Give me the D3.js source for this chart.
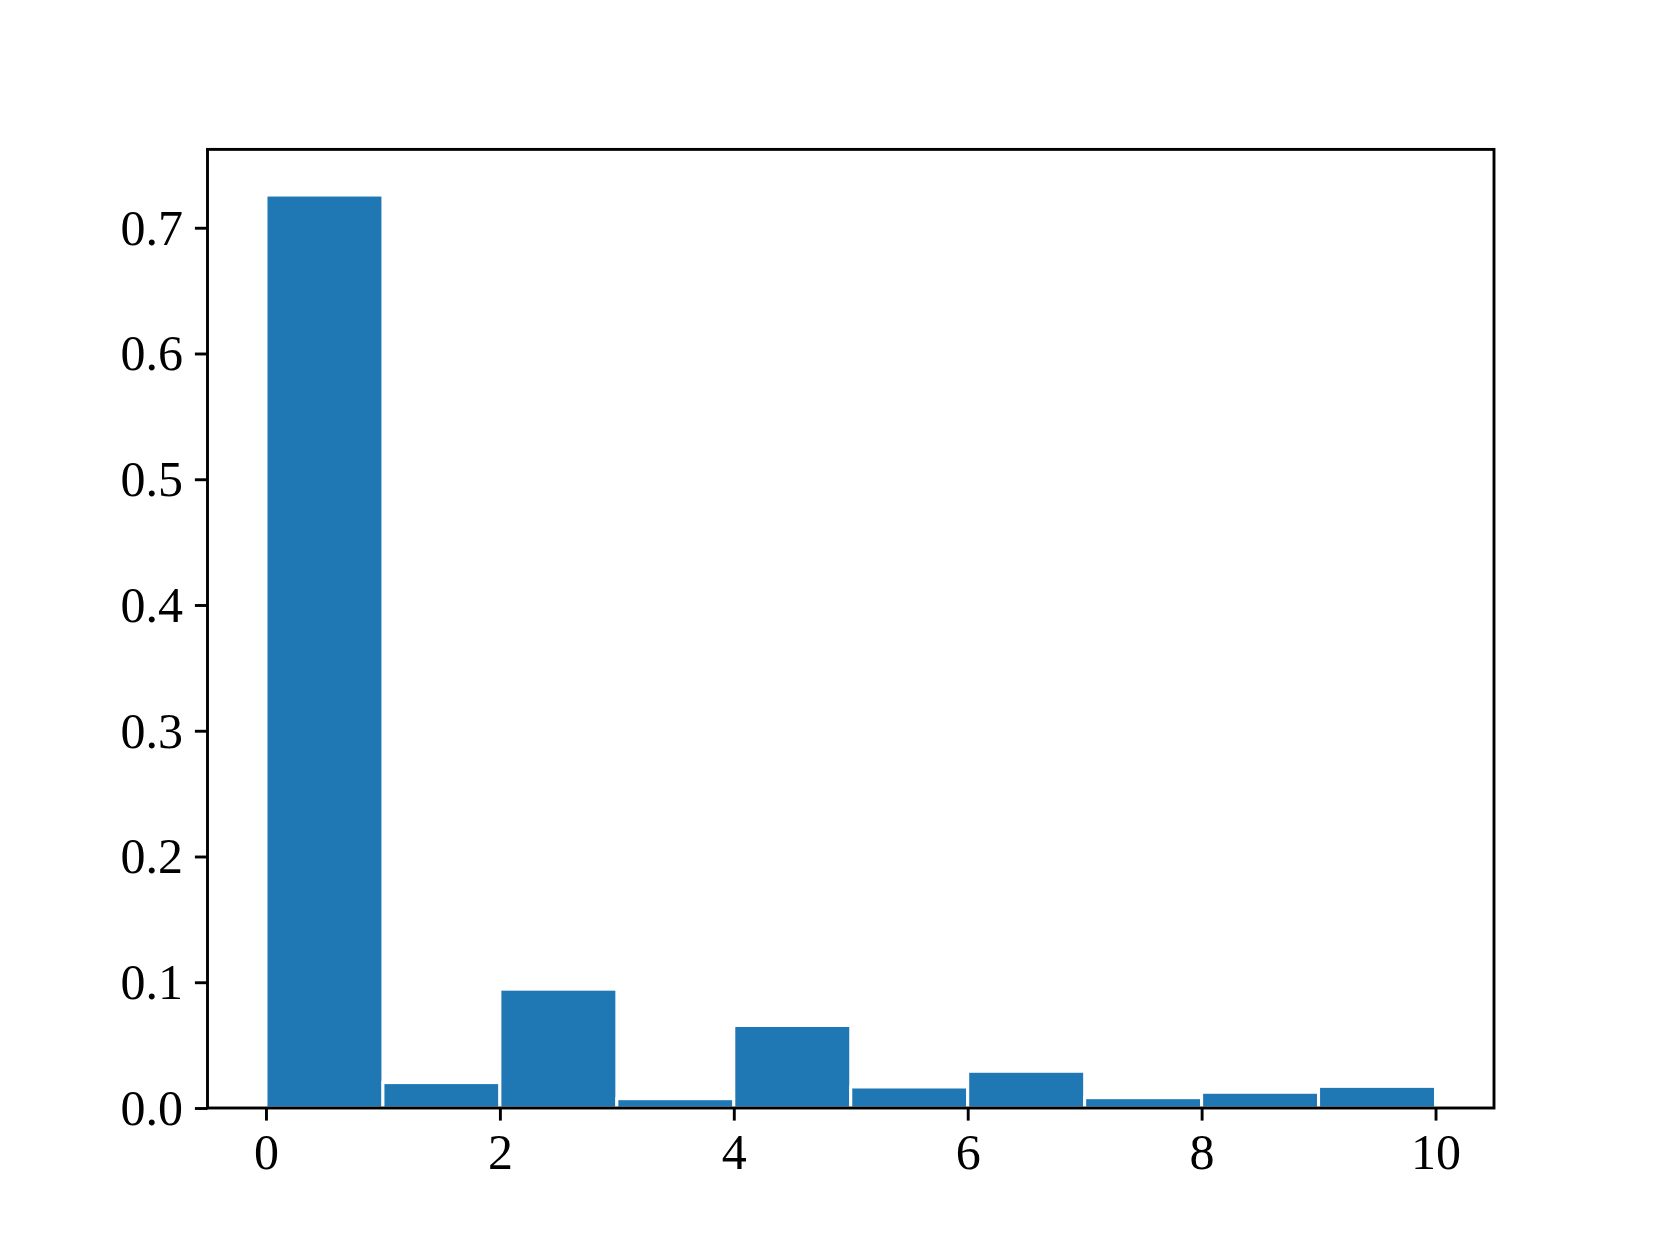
<!DOCTYPE html>
<html>
<head>
<meta charset="utf-8">
<script src="https://cdn.jsdelivr.net/npm/d3@7"></script>
<style>
  body { margin: 0; background: #fff; }
  svg text { font-family: "Liberation Serif", "Times New Roman", Times, serif !important; }
</style>
</head>
<body>
<div id="chart-area"></div>
<script>
// bin edges and heights
var binStarts = [0, 1, 2, 3, 4, 5, 6, 7, 8, 9];
var binValues = [0.726, 0.0202, 0.0945, 0.0074, 0.0656, 0.0167, 0.0292, 0.0082, 0.0125, 0.0172];
var xTicks = [0, 2, 4, 6, 8, 10];
var yTicks = [0.0, 0.1, 0.2, 0.3, 0.4, 0.5, 0.6, 0.7];

var W = 1660, H = 1245;
var margin = { left: 207.5, right: 166, top: 149.4, bottom: 137 },
    width = W - margin.left - margin.right,
    height = H - margin.top - margin.bottom;

var svg = d3.select("#chart-area").append("svg")
    .attr("width", W)
    .attr("height", H);

var g = svg.append("g")
    .attr("transform", "translate(" + margin.left + "," + margin.top + ")");

// Scales (matplotlib-like 5% margins)
var x_scale = d3.scaleLinear().domain([-0.5, 10.5]).range([0, width]);
var yMax = d3.max(binValues) * 1.05;
var y_scale = d3.scaleLinear().domain([0, yMax]).range([height, 0]);

// Bars
g.selectAll(".bar")
    .data(binStarts)
    .enter().append("rect")
    .attr("class", "bar")
    .attr("x", function(d) { return x_scale(d); })
    .attr("width", function(d) { return x_scale(d + 1) - x_scale(d); })
    .attr("y", function(d, i) { return y_scale(binValues[i]); })
    .attr("height", function(d, i) { return height - y_scale(binValues[i]); })
    .attr("fill", "#1f77b4")
    .attr("stroke", "#ffffff")
    .attr("stroke-width", 3);

// Axes
var xAxisCall = d3.axisBottom(x_scale)
    .tickValues(xTicks)
    .tickFormat(d3.format("d"))
    .tickSize(12.6)
    .tickPadding(9);
var yAxisCall = d3.axisLeft(y_scale)
    .tickValues(yTicks)
    .tickFormat(d3.format(".1f"))
    .tickSize(12.6)
    .tickPadding(12);

var xAxis = g.append("g")
    .attr("class", "x axis")
    .attr("transform", "translate(0," + height + ")")
    .call(xAxisCall);
var yAxis = g.append("g")
    .attr("class", "y axis")
    .call(yAxisCall);

[xAxis, yAxis].forEach(function(a) {
    a.attr("font-size", 50);
    a.select(".domain").remove();
    a.selectAll(".tick line").attr("stroke", "#000").attr("stroke-width", 2.9);
    a.selectAll(".tick text").attr("fill", "#000");
});
xAxis.selectAll(".tick text").attr("dy", "0.78em");
yAxis.selectAll(".tick text").attr("dy", "0.33em");

// Frame
g.append("rect")
    .attr("x", 0)
    .attr("y", 0)
    .attr("width", width)
    .attr("height", height)
    .attr("fill", "none")
    .attr("stroke", "#000")
    .attr("stroke-width", 2.9);
</script>
</body>
</html>
